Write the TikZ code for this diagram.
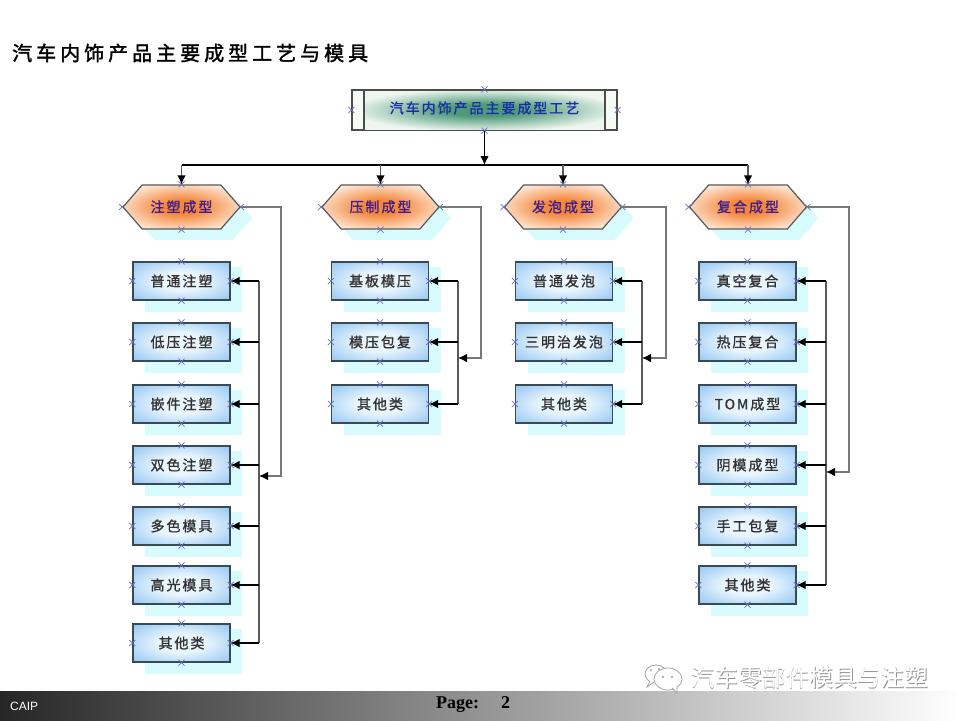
\documentclass[tikz,border=0pt]{standalone}
\usepackage{fontspec}
\usetikzlibrary{shapes.symbols,arrows.meta,calc}
\newfontfamily\cjk{Noto Sans CJK SC}
\newfontfamily\cjkbold[LetterSpace=14,FakeBold=1.2]{Noto Sans CJK SC}
\newfontfamily\cjktitle[LetterSpace=20,FakeBold=1.6]{Noto Sans CJK SC}
\setmainfont{Liberation Serif}
\setsansfont{Liberation Sans}
\definecolor{shadowc}{HTML}{D8FBFD}
\definecolor{edgec}{HTML}{3A4A55}
\definecolor{grayline}{HTML}{777777}
\definecolor{markc}{HTML}{6A6FC0}
\definecolor{boxin}{HTML}{E9F5FD}
\definecolor{boxout}{HTML}{9CCBF3}
\definecolor{hexin}{HTML}{F5873A}
\definecolor{hexout}{HTML}{FDF0E4}
\definecolor{topin}{HTML}{4F9A78}
\definecolor{topout}{HTML}{EEF6F0}
\definecolor{hextext}{HTML}{3F1F8F}
\definecolor{toptext}{HTML}{1A2EA8}
\pgfdeclareradialshading{boxshade}{\pgfpoint{0bp}{0bp}}{color(0bp)=(boxin); color(12bp)=(boxin); color(33bp)=(boxout); color(50bp)=(boxout)}
\pgfdeclareradialshading{hexshade}{\pgfpoint{0bp}{0bp}}{color(0bp)=(hexin); color(8bp)=(hexin); color(30bp)=(hexout); color(50bp)=(hexout)}
\pgfdeclareradialshading{topshade}{\pgfpoint{0bp}{0bp}}{color(0bp)=(topin); color(8bp)=(topin); color(28bp)=(topout); color(50bp)=(topout)}
\tikzset{
  x=1pt,y=-1pt,
  boxn/.style={draw=edgec,line width=1.2pt,minimum width=97pt,minimum height=38pt,inner sep=0pt,
    shading=boxshade,font=\cjkbold\fontsize{14}{14}\selectfont,text=black!80},
  hexn/.style={shape=signal,signal to=east and west,signal pointer angle=98,draw=black!65,line width=1.2pt,
    minimum width=117pt,minimum height=44pt,inner sep=0pt,
    shading=hexshade,font=\cjkbold\fontsize{14}{14}\selectfont,text=hextext},
  shadowbox/.style={fill=shadowc,draw=none},
  tree/.style={draw=black,line width=1.1pt},
  side/.style={draw=grayline,line width=1.1pt},
  bus/.style={draw=black!65,line width=1.2pt},
  tip/.style={-{Latex[length=9pt,width=8.5pt,color=black]}},
  xmk/.style={draw=markc,line width=.7pt},
}
\newcommand{\xmk}[1]{\draw[xmk] ($(#1)+(-3,-3)$) -- ($(#1)+(3,3)$) ($(#1)+(-3,3)$) -- ($(#1)+(3,-3)$);}
\newcommand{\fourmarks}[1]{\xmk{#1.north}\xmk{#1.south}\xmk{#1.east}\xmk{#1.west}}
\newcommand{\boxat}[4]{% name, x, y, text
  \fill[shadowbox] (#2-36.5,#3-14) rectangle (#2+60.5,#3+31);
  \node[boxn] (#1) at (#2,#3) {#4};
  \fourmarks{#1}}
\newcommand{\hexat}[3]{% name, x, text
  \node[shape=signal,signal to=east and west,signal pointer angle=98,fill=shadowc,minimum width=117pt,minimum height=44pt,inner sep=0pt] (#1s) at (#2+12,218) {};
  \node[hexn] (#1) at (#2,207) {\raisebox{1.5pt}{#3}};
  \fourmarks{#1}}
\begin{document}
\begin{tikzpicture}
\useasboundingbox (0,0) rectangle (960,720);
\fill[white] (0,0) rectangle (960,720);
\node[anchor=west,font=\cjktitle\fontsize{20}{20}\selectfont,inner sep=0pt] (title) at (12,53) {汽车内饰产品主要成型工艺与模具};
% top box
\node[draw=black!70,line width=1.1pt,minimum width=265pt,minimum height=40pt,inner sep=0pt,fill=topout!60!white] (top) at (484.5,110) {};
\fill[shading=topshade] (364,91) rectangle (605,129);
\coordinate (ba) at (364,90); \coordinate (bb) at (364,130);
\coordinate (bc) at (605,90); \coordinate (bd) at (605,130);
\draw[draw=black!70,line width=1.1pt] (ba) -- (bb) (bc) -- (bd);
\node[font=\cjkbold\fontsize{14}{14}\selectfont,text=toptext,inner sep=0pt] (toplabel) at (484.5,108) {汽车内饰产品主要成型工艺};
\fourmarks{top}
% hexagons
\hexat{ha}{181.5}{注塑成型}
\hexat{hb}{380.5}{压制成型}
\hexat{hc}{563}{发泡成型}
\hexat{hd}{748}{复合成型}
% boxes
\boxat{a1}{181.5}{281}{普通注塑}
\boxat{a2}{181.5}{342}{低压注塑}
\boxat{a3}{181.5}{404}{嵌件注塑}
\boxat{a4}{181.5}{465}{双色注塑}
\boxat{a5}{181.5}{526}{多色模具}
\boxat{a6}{181.5}{585}{高光模具}
\boxat{a7}{181.5}{643}{其他类}
\boxat{b1}{380}{281}{基板模压}
\boxat{b2}{380}{342}{模压包复}
\boxat{b3}{380}{404}{其他类}
\boxat{c1}{564}{281}{普通发泡}
\boxat{c2}{564}{342}{三明治发泡}
\boxat{c3}{564}{404}{其他类}
\boxat{d1}{747.5}{281}{真空复合}
\boxat{d2}{747.5}{342}{热压复合}
\boxat{d3}{747.5}{404}{TOM成型}
\boxat{d4}{747.5}{465}{阴模成型}
\boxat{d5}{747.5}{526}{手工包复}
\boxat{d6}{747.5}{585}{其他类}
% top tree
\coordinate (busj) at (top.south |- 0,165);
\draw[tree,tip] (top.south) -- (busj);
\draw[tree] (ha.north |- busj) -- (hd.north |- busj);
\foreach \n in {ha,hb,hc,hd} \draw[bus,tip] (\n.north |- busj) -- (\n.north);
% inner buses
\draw[bus] (a1.east -| 259,0) -- (a7.east -| 259,0);
\draw[bus] (b1.east -| 458,0) -- (b3.east -| 458,0);
\draw[bus] (c1.east -| 642,0) -- (c3.east -| 642,0);
\draw[bus] (d1.east -| 826,0) -- (d6.east -| 826,0);
% side + rungs
\foreach \h/\xo/\yj/\xi/\list in {ha/281/476/259/{a1,a2,a3,a4,a5,a6,a7},hb/481/358/458/{b1,b2,b3},hc/666/358/642/{c1,c2,c3},hd/849/472/826/{d1,d2,d3,d4,d5,d6}}{
  \coordinate (o1) at (\xo,207); \coordinate (o2) at (\xo,\yj); \coordinate (o3) at (\xi,\yj);
  \draw[side,tip] (\h.east) -- (o1) -- (o2) -- (o3);
  \foreach \b in \list {
    \coordinate (j) at (\xi,0);
    \draw[tree,tip] (j |- \b.east) -- (\b.east);
  }
}
% footer
\shade[left color=black!85,right color=white,middle color=black!42] (0,691) rectangle (960,720);
\node[anchor=west,font=\sffamily\fontsize{12}{12}\selectfont,text=white,inner sep=0pt] (caip) at (10,706) {CAIP};
\node[anchor=west,font=\bfseries\fontsize{18}{18}\selectfont,inner sep=0pt] (page) at (436,705) {Page:\hspace{22pt}2};
% watermark
\draw[black!35,fill=white,line width=.8pt] (656,674) ellipse (11 and 9);
\draw[black!35,fill=white,line width=.8pt] (650,681) -- (647,687) -- (654,682);
\draw[black!35,fill=white,line width=.8pt] (668,679) ellipse (14 and 11);
\draw[black!35,fill=white,line width=.8pt] (672,688) -- (677,693) -- (677,686);
\fill[black!40] (663,677) circle (1.2) (672,677) circle (1.2) (651,670) circle (1) (659,669) circle (1);
\node[anchor=west,font=\cjk\fontsize{23.7}{23.7}\selectfont,text=black!42,inner sep=0pt] (wm0) at (691.6,678.6) {汽车零部件模具与注塑};
\node[anchor=west,font=\cjk\fontsize{23.7}{23.7}\selectfont,text=white,inner sep=0pt] (wm) at (691,678) {汽车零部件模具与注塑};
\end{tikzpicture}
\end{document}
